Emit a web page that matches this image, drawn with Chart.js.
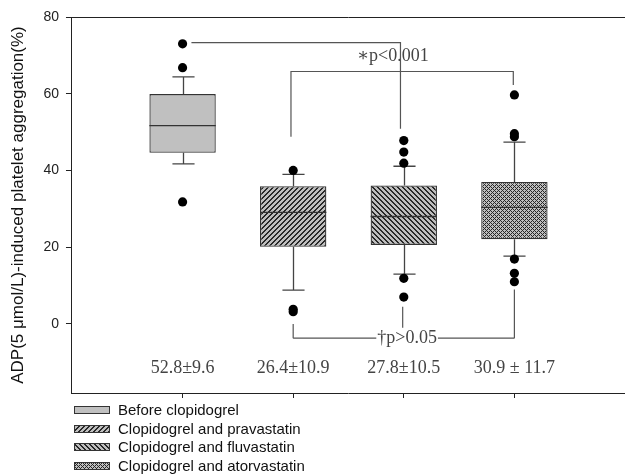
<!DOCTYPE html>
<html>
<head>
<meta charset="utf-8">
<script src="https://cdn.jsdelivr.net/npm/chart.js@4.4.0/dist/chart.umd.min.js"></script>
<style>
  body { margin: 0; background: #fff; }
</style>
</head>
<body>
<canvas id="agregacao" width="625" height="475"></canvas>
<script>
// dados
const grupos = ['Before clopidogrel', 'Clopidogrel and pravastatin', 'Clopidogrel and fluvastatin', 'Clopidogrel and atorvastatin'];
const posicoes = [1, 2, 3, 4];
const q1 = [44.6, 20.1, 20.6, 22.1];
const medianas = [51.7, 29.1, 28.0, 30.4];
const q3 = [59.9, 35.9, 36.1, 37.0];
const bigodeMin = [41.7, 8.8, 13.0, 17.7];
const bigodeMax = [64.4, 39.0, 41.1, 47.4];
const outliers = [
  [73.0, 66.8, 31.8],
  [40.0, 3.8, 3.2],
  [47.8, 44.8, 41.9, 11.9, 7.0],
  [59.7, 49.6, 48.8, 16.9, 13.2, 11.0]
];
const yTicks = [0, 20, 40, 60, 80];
const mediaDp = ['52.8\u00b19.6', '26.4\u00b110.9', '27.8\u00b110.5', '30.9 \u00b1 11.7'];

// chaves de significancia: [x, y] em unidades do grafico
const chaveTopo = [[1.08, 73.3], [2.97, 73.3], [2.97, 50.9]];
const chaveMeio = [[1.98, 48.8], [1.98, 65.8], [3.99, 65.8], [3.99, 62.3]];
const textoTopo = { text: '\u2217p<0.001', x: 2.9, y: 69.8 };
const chaveBaixo = [[2, -3.7], [4, -3.7]];
const pernasBaixo = [[2, 0, -3.7], [2.99, 4.5, -1.0], [4, 9.0, -3.7]];
const textoBaixo = { text: '\u2020p>0.05', x: 3.03, y: -3.7 };
const yMediaDp = -11.5;

// padroes de preenchimento (pixel a pixel)
function hachura(tipo) {
  const s = tipo === 'x' ? 4 : 5;
  const c = document.createElement('canvas');
  c.width = s; c.height = s;
  const g = c.getContext('2d');
  const img = g.createImageData(s, s);
  for (let y = 0; y < s; y++) {
    for (let x = 0; x < s; x++) {
      let escuro;
      if (tipo === '/') escuro = ((x + y) % s === s - 1) || ((x + y) % s === 0);
      else if (tipo === '\\') escuro = ((x - y + s) % s === 0) || ((x - y + s) % s === 1);
      else escuro = ((x + y) % 4 === 0) || ((x - y + 4) % 4 === 0);
      const v = escuro ? 40 : 190;
      const k = (y * s + x) * 4;
      img.data[k] = v; img.data[k + 1] = v; img.data[k + 2] = v; img.data[k + 3] = 255;
    }
  }
  g.putImageData(img, 0, 0);
  return g.createPattern(c, 'repeat');
}
const preenchimentos = ['#c0c0c0', hachura('/'), hachura('\\'), hachura('x')];

const pontosOutliers = [];
outliers.forEach((lista, i) => lista.forEach(v => pontosOutliers.push({ x: posicoes[i], y: v })));

const boxPlot = {
  id: 'boxPlot',
  beforeDatasetsDraw(chart) {
    const { ctx, scales: { x, y } } = chart;
    const meia = (x.getPixelForValue(1.1) - x.getPixelForValue(1));
    ctx.save();
    ctx.strokeStyle = '#444';
    ctx.lineWidth = 1.3;
    posicoes.forEach((p, i) => {
      const px = Math.round(x.getPixelForValue(p)) + 0.5;
      ctx.beginPath();
      ctx.moveTo(px, y.getPixelForValue(q3[i]));
      ctx.lineTo(px, y.getPixelForValue(bigodeMax[i]));
      ctx.moveTo(px, y.getPixelForValue(q1[i]));
      ctx.lineTo(px, y.getPixelForValue(bigodeMin[i]));
      ctx.moveTo(px - meia, y.getPixelForValue(bigodeMax[i]));
      ctx.lineTo(px + meia, y.getPixelForValue(bigodeMax[i]));
      ctx.moveTo(px - meia, y.getPixelForValue(bigodeMin[i]));
      ctx.lineTo(px + meia, y.getPixelForValue(bigodeMin[i]));
      ctx.stroke();
    });
    ctx.restore();
  },
  afterDatasetDraw(chart, args) {
    if (args.meta.type !== 'bar') return;
    const { ctx, scales: { y } } = chart;
    ctx.save();
    ctx.strokeStyle = '#333';
    ctx.lineWidth = 1.3;
    args.meta.data.forEach((bar, i) => {
      const py = y.getPixelForValue(medianas[i]);
      ctx.beginPath();
      ctx.moveTo(bar.x - bar.width / 2, py);
      ctx.lineTo(bar.x + bar.width / 2, py);
      ctx.stroke();
    });
    ctx.restore();
  },
  afterDraw(chart) {
    const { ctx, chartArea, scales: { x, y } } = chart;
    const px = v => x.getPixelForValue(v);
    const py = v => y.getPixelForValue(v);
    ctx.save();
    // borda de cima
    ctx.strokeStyle = '#222';
    ctx.lineWidth = 1;
    ctx.beginPath();
    ctx.moveTo(chartArea.left, chartArea.top + 0.5);
    ctx.lineTo(chartArea.right, chartArea.top + 0.5);
    ctx.stroke();

    const serif = '18px "Liberation Serif", "DejaVu Serif", serif';
    ctx.font = serif;
    ctx.fillStyle = '#444';
    ctx.textAlign = 'center';
    ctx.textBaseline = 'middle';
    ctx.fillText(textoTopo.text, px(textoTopo.x), py(textoTopo.y));

    // chaves
    ctx.strokeStyle = '#555';
    ctx.lineWidth = 1.2;
    [chaveTopo, chaveMeio, chaveBaixo].forEach(linha => {
      ctx.beginPath();
      linha.forEach(([a, b], k) => k ? ctx.lineTo(px(a), py(b)) : ctx.moveTo(px(a), py(b)));
      ctx.stroke();
    });
    pernasBaixo.forEach(([a, b1, b2]) => {
      ctx.beginPath();
      ctx.moveTo(px(a), py(b1));
      ctx.lineTo(px(a), py(b2));
      ctx.stroke();
    });
    const w = ctx.measureText(textoBaixo.text).width;
    ctx.fillStyle = '#fff';
    ctx.fillRect(px(textoBaixo.x) - w / 2 - 1, py(textoBaixo.y) - 9, w + 2, 18);
    ctx.fillStyle = '#444';
    ctx.fillText(textoBaixo.text, px(textoBaixo.x), py(textoBaixo.y));

    // media +- dp
    mediaDp.forEach((t, i) => ctx.fillText(t, px(posicoes[i]), py(yMediaDp)));

    // legenda
    ctx.font = '15px "Liberation Sans", Arial, sans-serif';
    ctx.textAlign = 'left';
    grupos.forEach((g, i) => {
      const yy = Math.round(410 + i * 18.5);
      ctx.fillStyle = preenchimentos[i];
      ctx.fillRect(74, yy - 3.5, 35, 7);
      ctx.strokeStyle = '#333';
      ctx.lineWidth = 1;
      ctx.strokeRect(74.5, yy - 3.5, 35, 7);
      ctx.fillStyle = '#111';
      ctx.fillText(g, 118, yy + 1);
    });
    ctx.restore();
  }
};

new Chart(document.getElementById('agregacao'), {
  type: 'bar',
  data: {
    datasets: [
      {
        type: 'scatter',
        label: 'Outliers',
        data: pontosOutliers,
        backgroundColor: '#000',
        borderWidth: 0,
        pointRadius: 4.6,
        pointHoverRadius: 4.6
      },
      {
        type: 'bar',
        label: 'Caixas',
        data: posicoes.map((p, i) => ({ x: p, y: [q1[i], q3[i]] })),
        backgroundColor: preenchimentos,
        borderColor: '#333',
        borderWidth: 1.3,
        borderSkipped: false,
        barPercentage: 0.6,
        categoryPercentage: 1
      }
    ]
  },
  options: {
    responsive: false,
    animation: false,
    devicePixelRatio: 1,
    layout: { autoPadding: false, padding: { top: 17, right: 0, bottom: 77, left: 0 } },
    plugins: {
      legend: { display: false }, // legenda desenhada no plugin
      tooltip: { enabled: false }
    },
    scales: {
      x: {
        type: 'linear',
        min: 0,
        max: 5,
        offset: false,
        afterBuildTicks: scale => { scale.ticks = posicoes.map(v => ({ value: v })); },
        ticks: { display: false },
        grid: { drawOnChartArea: false, offset: false, tickLength: 5, tickColor: '#222' },
        border: { color: '#222', width: 1 }
      },
      y: {
        min: -18,
        max: 80,
        afterBuildTicks: scale => { scale.ticks = yTicks.map(v => ({ value: v })); },
        ticks: { font: { family: '"Liberation Sans", Arial, sans-serif', size: 14 }, color: '#222', padding: 7 },
        grid: { drawOnChartArea: false, tickLength: 6, tickColor: '#222' },
        border: { color: '#222', width: 1 },
        title: {
          display: true,
          text: 'ADP(5 \u03bcmol/L)-induced platelet aggregation(%)',
          font: { family: '"Liberation Sans", Arial, sans-serif', size: 17 },
          color: '#111',
          padding: { top: 8, bottom: 8 }
        }
      }
    }
  },
  plugins: [boxPlot]
});
</script>
</body>
</html>
